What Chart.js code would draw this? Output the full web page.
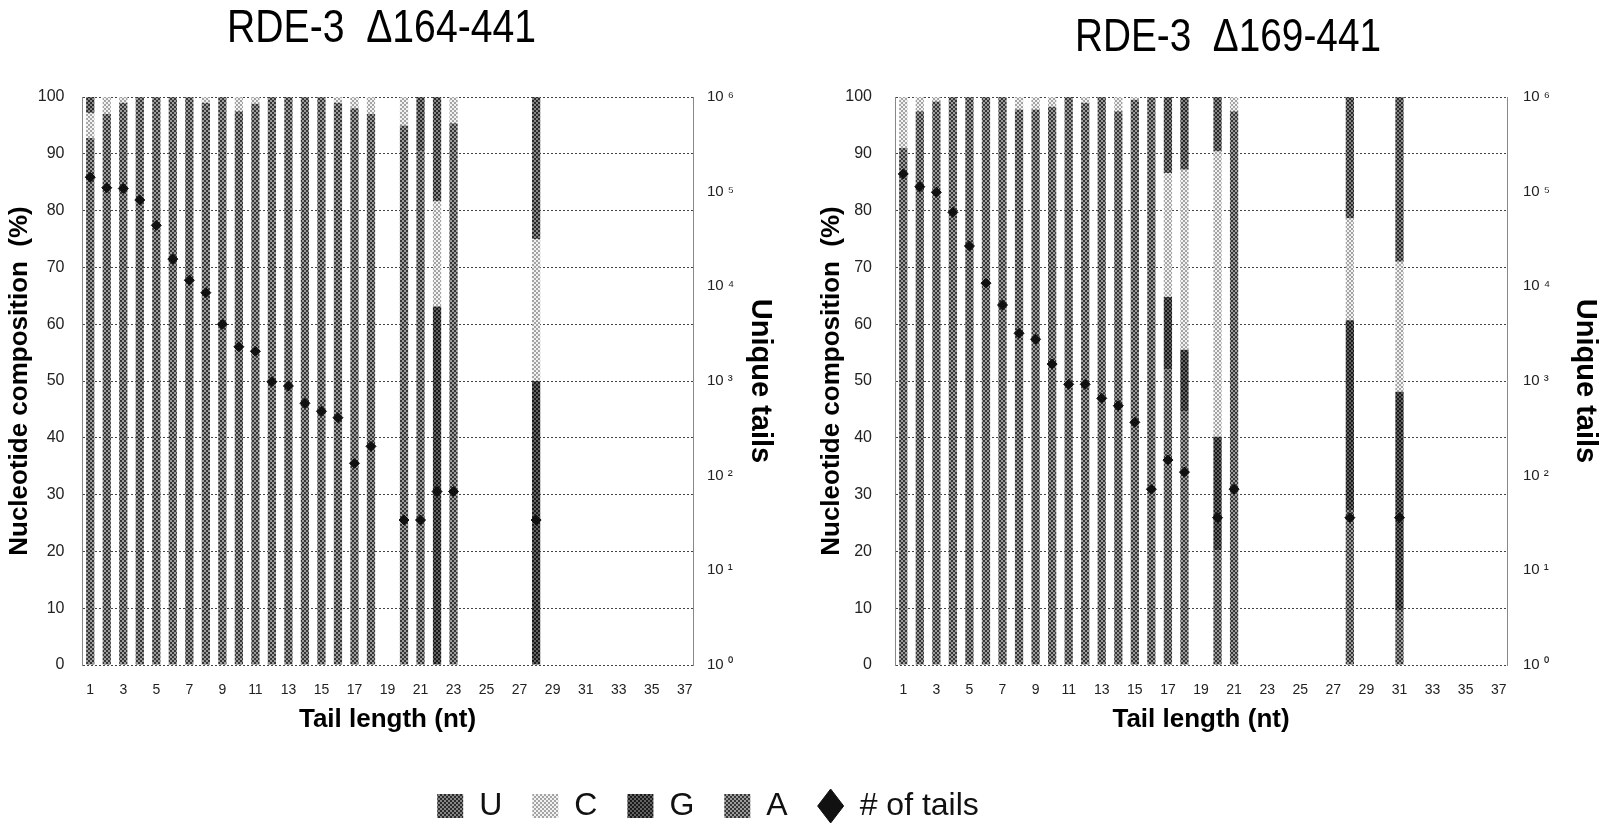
<!DOCTYPE html>
<html><head><meta charset="utf-8">
<script src="https://cdn.jsdelivr.net/npm/chart.js@4.4.0/dist/chart.umd.min.js"></script>
<style>
html,body{margin:0;padding:0;background:#fff;width:1606px;height:825px;overflow:hidden;position:relative}
canvas{position:absolute}
</style></head><body>
<canvas id="cL" width="803" height="745" style="left:0;top:0"></canvas>
<canvas id="cR" width="803" height="745" style="left:803px;top:0"></canvas>
<canvas id="cLeg" width="700" height="82" style="left:358px;top:760px"></canvas>
<script>
// ---------- data ----------
const categories = ['1','2','3','4','5','6','7','8','9','10','11','12','13','14','15','16','17','18','19','20','21','22','23','24','25','26','27','28','29','30','31','32','33','34','35','36','37'];
const seriesNames = ['U','C','G','A'];
const tailsLabel = '# of tails';
const yRightTickValues = [1,10,100,1000,10000,100000,1000000];
const yRightTickLabels = ['10 \u2070','10 \u00b9','10 \u00b2','10 \u00b3','10 \u2074','10 \u2075','10 \u2076'];
const leftTitle = 'RDE-3  \u0394164-441';
const rightTitle = 'RDE-3  \u0394169-441';
const xTitle = 'Tail length (nt)';
const yLeftTitle = 'Nucleotide composition  (%)';
const yRightTitle = 'Unique tails';

// Left panel (RDE-3 D164-441), stacked bottom->top: A, G, C, U
const leftA = [92.8,97,99,100,100,100,100,99,100,97.5,98.8,100,100,100,100,99,98,97,null,95,90.4,0,95.4,null,null,null,null,0,null,null,null,null,null,null,null,null,null];
const leftG = [0,0,0,0,0,0,0,0,0,0,0,0,0,0,0,0,0,0,null,0,0,63.1,0,null,null,null,null,50,null,null,null,null,null,null,null,null,null];
const leftC = [4.4,3,1,0,0,0,0,1,0,2.5,1.2,0,0,0,0,1,2,3,null,5,0,18.5,4.6,null,null,null,null,25,null,null,null,null,null,null,null,null,null];
const leftU = [2.8,0,0,0,0,0,0,0,0,0,0,0,0,0,0,0,0,0,null,0,9.6,18.4,0,null,null,null,null,25,null,null,null,null,null,null,null,null,null];
const leftTails = [142000,110000,108000,81600,44100,19400,11600,8570,3970,2300,2060,984,885,581,479,410,135,204,null,34,34,68,68,null,null,null,null,34,null,null,null,null,null,null,null,null,null];

// Right panel (RDE-3 D169-441)
const rightA = [91,97.5,99.2,100,100,100,100,97.8,97.8,98.3,100,99,100,97.5,99.5,100,52,44.6,null,20.2,97.5,null,null,null,null,null,null,27.3,null,null,9.7,null,null,null,null,null,null];
const rightG = [0,0,0,0,0,0,0,0,0,0,0,0,0,0,0,0,12.8,10.9,null,20,0,null,null,null,null,null,null,33.4,null,null,38.4,null,null,null,null,null,null];
const rightC = [9,2.5,0.8,0,0,0,0,2.2,2.2,1.7,0,1,0,2.5,0.5,0,21.8,31.7,null,50.2,2.5,null,null,null,null,null,null,17.9,null,null,22.9,null,null,null,null,null,null];
const rightU = [0,0,0,0,0,0,0,0,0,0,0,0,0,0,0,0,13.4,12.8,null,9.6,0,null,null,null,null,null,null,21.4,null,null,29,null,null,null,null,null,null];
const rightTails = [153800,112800,98500,60500,26700,10800,6350,3190,2760,1510,923,923,656,548,366,72,146,109,null,36,72,null,null,null,null,null,null,36,null,null,36,null,null,null,null,null,null];

// ---------- styles ----------
const SANS = "'Liberation Sans', Arial, Helvetica, sans-serif";
const tones = {U:['#2a2a2a','#868686'], C:['#a4a4a4','#f2f2f2'], G:['#1a1a1a','#626262'], A:['#363636','#9c9c9c']};
function makePatterns(ctx){
  const out = {};
  for (const k of Object.keys(tones)) {
    const t = document.createElement('canvas'); t.width = 4; t.height = 4;
    const g = t.getContext('2d');
    g.fillStyle = tones[k][1]; g.fillRect(0,0,4,4);
    g.fillStyle = tones[k][0]; g.fillRect(0,0,2,2); g.fillRect(2,2,2,2);
    out[k] = ctx.createPattern(t,'repeat');
  }
  return out;
}

// narrows the title block so the (condensed) title sits where the reference has it
const titleBoxPlugin = {
  id:'titleBox',
  afterLayout(chart, args, opts){
    const tb = chart.titleBlock;
    if (!tb || !opts || opts.cx == null) return;
    tb.left = opts.cx - opts.w / 2; tb.right = opts.cx + opts.w / 2; tb.width = opts.w;
  }
};

function panel(id, o){
  const ctx = document.getElementById(id).getContext('2d');
  const P = makePatterns(ctx);
  const bar = (name, data) => ({label:name, data:data, backgroundColor:P[name], borderWidth:0, barPercentage:0.5, categoryPercentage:1.0, yAxisID:'y'});
  return new Chart(ctx, {
    type:'bar',
    plugins:[titleBoxPlugin],
    data:{labels:categories, datasets:[
      bar('A', o.A), bar('G', o.G), bar('C', o.C), bar('U', o.U),
      {type:'line', label:tailsLabel, data:o.tails, yAxisID:'y1', showLine:false, pointStyle:'rectRot', pointRadius:5, pointHoverRadius:5, backgroundColor:'#111', borderColor:'#111', borderWidth:1, order:-1}
    ]},
    options:{
      responsive:false, animation:false, devicePixelRatio:1,
      layout:{padding:0},
      plugins:{
        legend:{display:false}, tooltip:{enabled:false},
        titleBox:{cx:o.titleCx, w:o.titleW},
        title:{display:true, text:o.title, fullSize:true, color:'#000', font:{family:SANS, size:47, weight:'normal', lineHeight:1.2}, padding:o.titlePad}
      },
      scales:{
        x:{stacked:true, grid:{display:false}, border:{display:false},
          ticks:{autoSkip:false, maxRotation:0, minRotation:0, padding:8.6, color:'#222', font:{family:SANS, size:14},
            callback:(v,i)=> (i % 2 === 0 ? categories[i] : '')},
          title:{display:true, text:xTitle, color:'#000', font:{family:SANS, size:26, weight:'bold', lineHeight:1.2}, padding:{top:0, bottom:9.4}},
          afterFit:s=>{ s.height = 80; }},
        y:{stacked:true, position:'left', min:0, max:100,
          ticks:{stepSize:10, padding:o.yTickPad, color:'#222', font:{family:SANS, size:16}},
          grid:{color:'#444', lineWidth:1, drawTicks:false},
          border:{display:true, color:'#888', dash:[2,2]},
          title:{display:true, text:yLeftTitle, color:'#000', font:{family:SANS, size:26, weight:'bold', lineHeight:1.2}, padding:{top:o.yTitlePad, bottom:0}},
          afterFit:s=>{ s.width = o.yW; }},
        y1:{type:'logarithmic', position:'right', min:1, max:1000000,
          grid:{display:false, drawTicks:false}, border:{display:true, color:'#888'},
          afterBuildTicks:s=>{ s.ticks = yRightTickValues.map(v=>({value:v})); },
          ticks:{padding:o.y1TickPad, color:'#222', font:{family:SANS, size:15},
            callback:(v)=> yRightTickLabels[yRightTickValues.indexOf(v)]},
          title:{display:true, text:yRightTitle, color:'#000', font:{family:SANS, size:29, weight:'bold', lineHeight:1.2}, padding:{top:o.y1TitlePad, bottom:0}},
          afterFit:s=>{ s.width = o.y1W; }}
      }
    }
  });
}

panel('cL', {A:leftA, G:leftG, C:leftC, U:leftU, tails:leftTails, title:leftTitle,
  titleCx:381.5, titleW:309, titlePad:{top:0.8, bottom:39.8},
  yW:82, yTickPad:17.5, yTitlePad:3.9, y1W:110, y1TickPad:14, y1TitlePad:25.6});

panel('cR', {A:rightA, G:rightG, C:rightC, U:rightU, tails:rightTails, title:rightTitle,
  titleCx:425, titleW:306, titlePad:{top:9.8, bottom:30.8},
  yW:92, yTickPad:23, yTitlePad:13.4, y1W:99, y1TickPad:16, y1TitlePad:3.6});

// ---------- legend ----------
(function(){
  const ctx = document.getElementById('cLeg').getContext('2d');
  const P = makePatterns(ctx);
  const ds = seriesNames.map(n => ({label:n, data:[], backgroundColor:P[n], borderWidth:0}));
  ds.push({type:'line', label:tailsLabel, data:[], backgroundColor:'#111', borderColor:'#111', borderWidth:1, pointStyle:'rectRot'});
  new Chart(ctx, {
    type:'bar',
    data:{labels:[], datasets:ds},
    options:{responsive:false, animation:false, devicePixelRatio:1, layout:{padding:0},
      scales:{x:{display:false}, y:{display:false}},
      plugins:{tooltip:{enabled:false}, title:{display:false},
        legend:{display:true, position:'top', maxHeight:200,
          labels:{usePointStyle:true, pointStyleWidth:26, boxWidth:26, boxHeight:24, padding:30, color:'#111', font:{family:SANS, size:32},
            generateLabels:(chart)=>{
              const items = Chart.defaults.plugins.legend.labels.generateLabels(chart);
              items.forEach(it => { it.pointStyle = (it.datasetIndex === 4 ? 'rectRot' : 'rect'); it.lineWidth = it.datasetIndex === 4 ? 1 : 0; });
              return items;
            }}}}}
  });
})();
</script>
</body></html>
